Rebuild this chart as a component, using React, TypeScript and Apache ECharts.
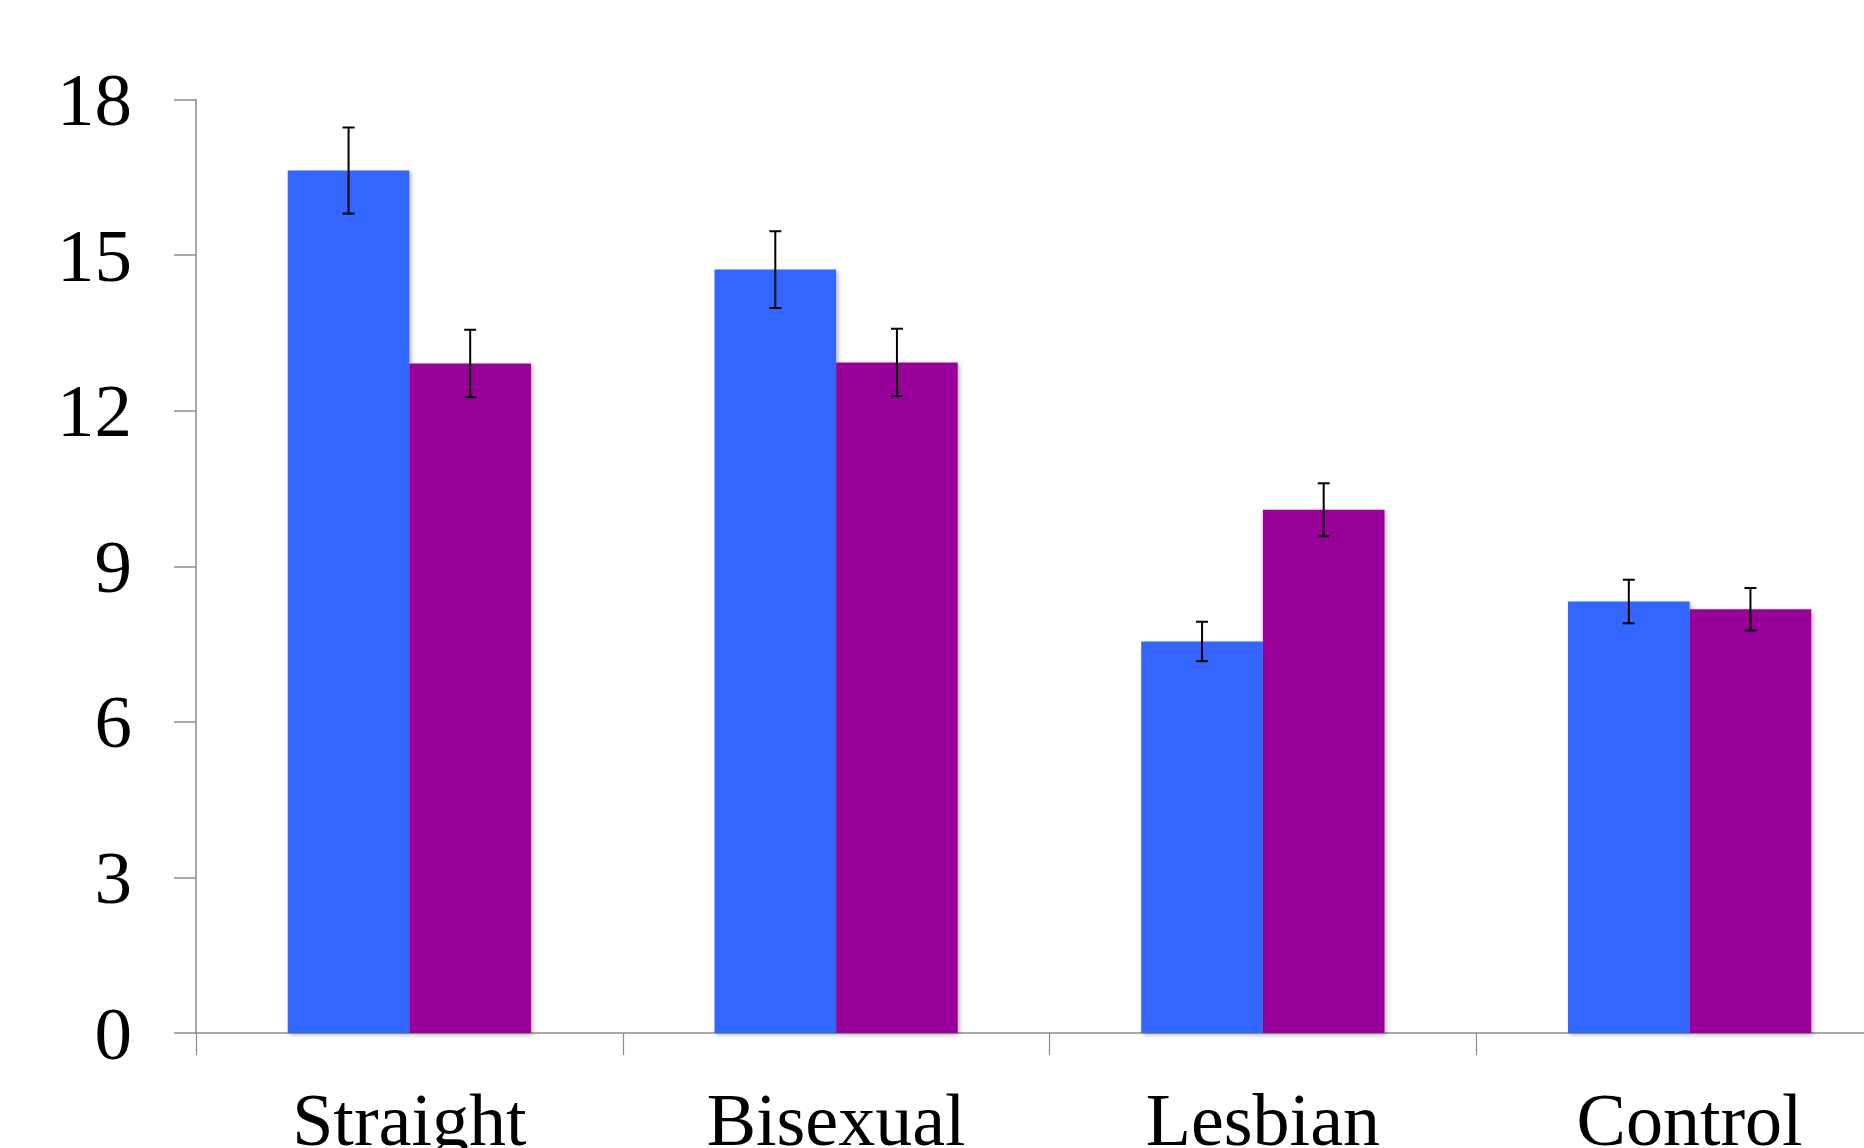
import React, { useEffect, useRef } from "react";
import * as echarts from "echarts";

// Group labels and the two measured series with their error margins
const categories = ["Straight", "Bisexual", "Lesbian", "Control"];
const blueValues = [16.63, 14.72, 7.55, 8.32];
const blueErrors = [0.83, 0.74, 0.38, 0.42];
const purpleValues = [12.91, 12.93, 10.09, 8.17];
const purpleErrors = [0.65, 0.65, 0.51, 0.41];
const yTicks = { min: 0, max: 18, interval: 3 };

const BLUE = "#3366FF";
const PURPLE = "#990099";
const CATEGORY_GAP = 0.43;
const FONT = "'Liberation Serif', 'DejaVu Serif', serif";

// The plot runs a little past the right edge of the visible frame
const FRAME_W = 1864;
const FRAME_H = 1148;
const CHART_W = 1903;

function errorSeries(values: number[], errors: number[], side: number) {
  return {
    type: "custom",
    z: 10,
    encode: { x: 0, y: 1 },
    data: values.map((v, i) => [i, v, errors[i]]),
    renderItem: (_params: any, api: any) => {
      const idx = api.value(0);
      const val = api.value(1);
      const err = api.value(2);
      const band = api.size([1, 0])[0];
      const offset = (side * band * (1 - CATEGORY_GAP)) / 4;
      const top = api.coord([idx, val + err]);
      const bot = api.coord([idx, val - err]);
      const x = top[0] + offset;
      const half = 6;
      const style = { stroke: "#000", lineWidth: 2 };
      return {
        type: "group",
        children: [
          { type: "line", shape: { x1: x, y1: top[1], x2: x, y2: bot[1] }, style },
          { type: "line", shape: { x1: x - half, y1: top[1], x2: x + half, y2: top[1] }, style },
          { type: "line", shape: { x1: x - half, y1: bot[1], x2: x + half, y2: bot[1] }, style },
        ],
      };
    },
  };
}

export default function App() {
  const ref = useRef<HTMLDivElement>(null);

  useEffect(() => {
    if (!ref.current) return;
    const chart = echarts.init(ref.current, undefined, { renderer: "svg" });
    const axisColor = "#8c8c8c";
    const barShadow = {
      shadowColor: "rgba(0,0,0,0.28)",
      shadowBlur: 4,
      shadowOffsetX: 2,
      shadowOffsetY: 2,
    };
    chart.setOption({
      animation: false,
      backgroundColor: "#ffffff",
      grid: {
        left: 196,
        right: 0,
        top: 99.5,
        bottom: 115,
        containLabel: false,
        outerBoundsMode: "none",
      },
      xAxis: {
        type: "category",
        data: categories,
        boundaryGap: true,
        axisLine: { lineStyle: { color: axisColor, width: 1.5 } },
        axisTick: { show: true, length: 22, inside: false, lineStyle: { color: axisColor, width: 1.2 } },
        axisLabel: { color: "#000", fontFamily: FONT, fontSize: 74, margin: 50 },
      },
      yAxis: {
        type: "value",
        min: yTicks.min,
        max: yTicks.max,
        interval: yTicks.interval,
        splitLine: { show: false },
        axisLine: { show: true, lineStyle: { color: axisColor, width: 1.5 } },
        axisTick: { show: true, length: 22, inside: false, lineStyle: { color: axisColor, width: 1.5 } },
        axisLabel: { color: "#000", fontFamily: FONT, fontSize: 75, margin: 64 },
      },
      series: [
        {
          type: "bar",
          data: blueValues,
          barGap: "0%",
          barCategoryGap: `${CATEGORY_GAP * 100}%`,
          itemStyle: { color: BLUE, ...barShadow },
        },
        {
          type: "bar",
          data: purpleValues,
          barGap: "0%",
          barCategoryGap: `${CATEGORY_GAP * 100}%`,
          itemStyle: { color: PURPLE, ...barShadow },
        },
        errorSeries(blueValues, blueErrors, -1),
        errorSeries(purpleValues, purpleErrors, 1),
      ],
    });
    return () => chart.dispose();
  }, []);

  return (
    <div
      style={{
        position: "absolute",
        left: 0,
        top: 0,
        width: FRAME_W,
        height: FRAME_H,
        overflow: "hidden",
        background: "#ffffff",
      }}
    >
      <div ref={ref} style={{ width: CHART_W, height: FRAME_H }} />
    </div>
  );
}
